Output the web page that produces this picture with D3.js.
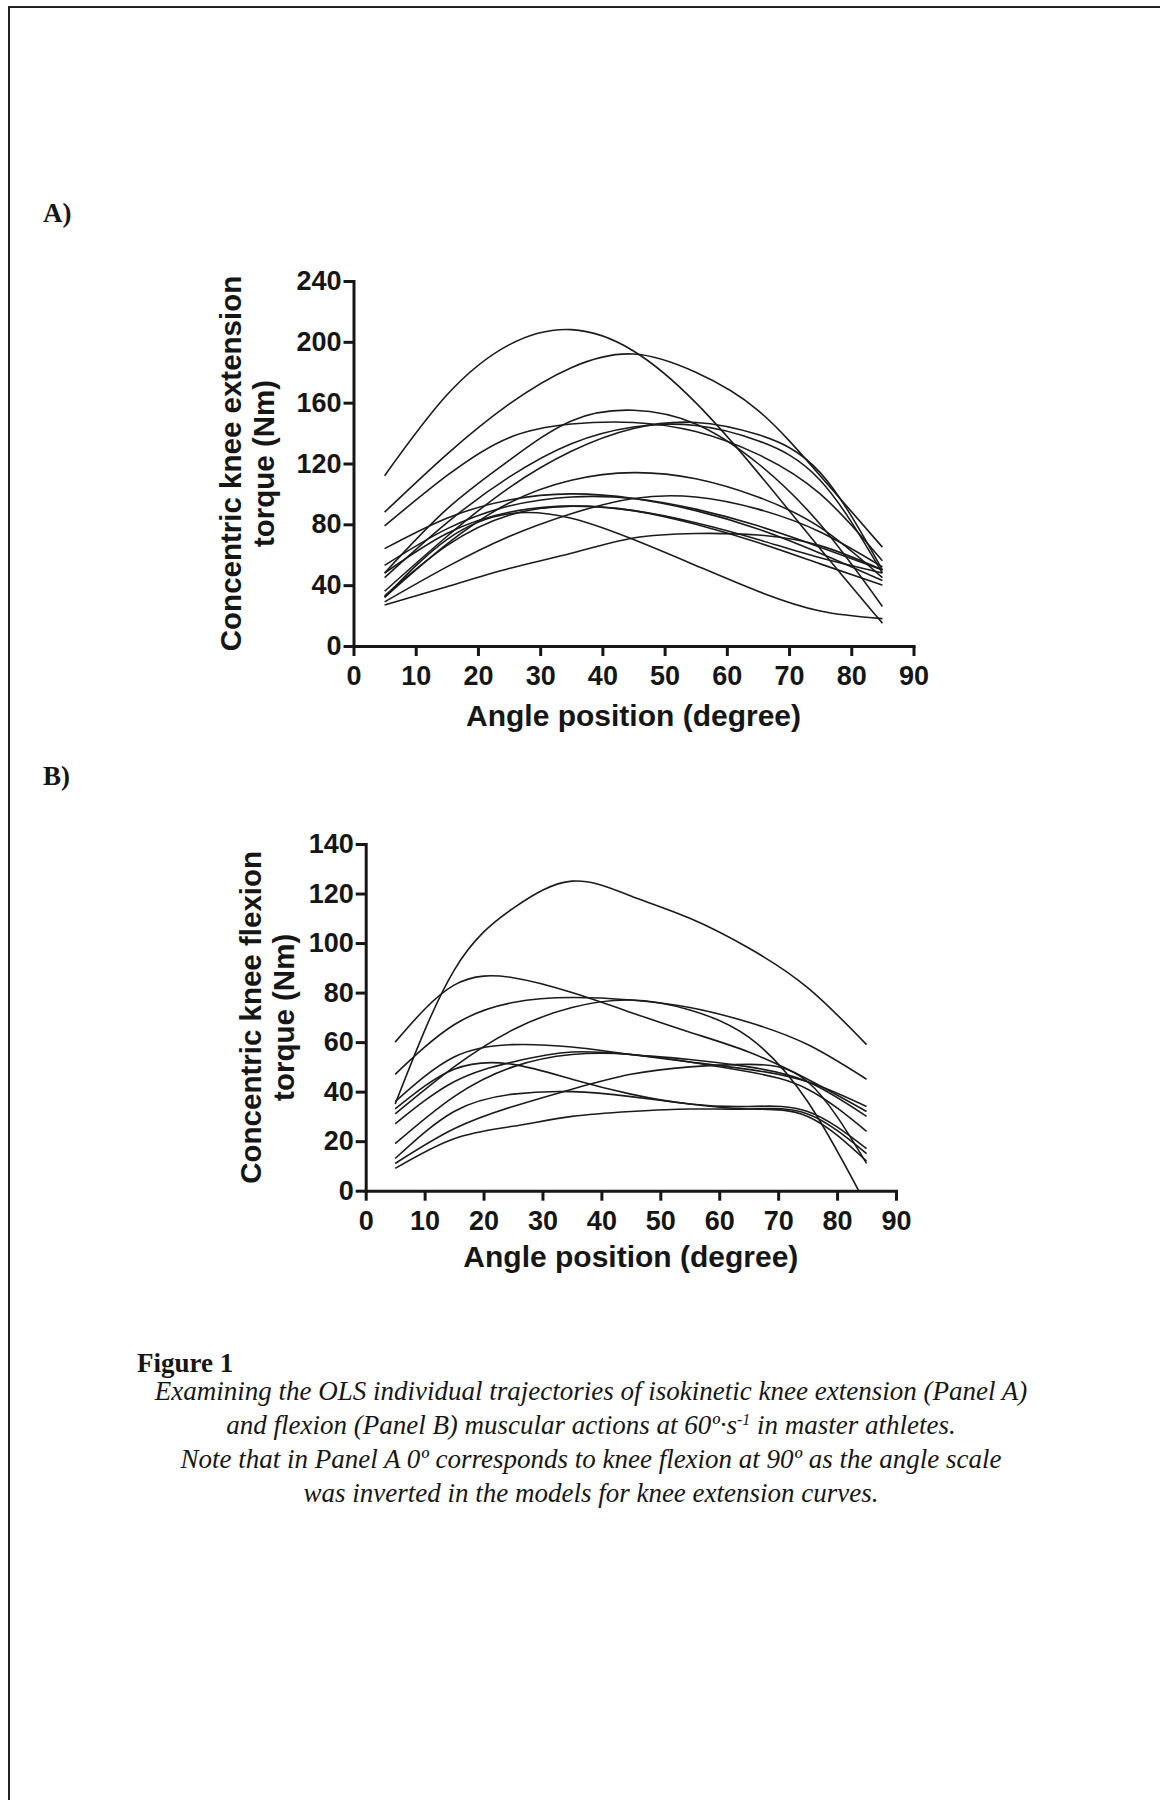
<!DOCTYPE html>
<html>
<head>
<meta charset="utf-8">
<script src="https://cdn.jsdelivr.net/npm/d3@7"></script>
<style>
body { margin: 0; background: #fff; }
svg { display: block; }
</style>
</head>
<body>
<div id="figure"></div>
<script>
const anglePoints = [5, 15, 25, 35, 45, 55, 65, 75, 85]
const angleTicks = [0, 10, 20, 30, 40, 50, 60, 70, 80, 90]
const extensionTicks = [0, 40, 80, 120, 160, 200, 240]
const flexionTicks = [0, 20, 40, 60, 80, 100, 120, 140]

// Panel A - concentric knee extension torque (Nm), one row per athlete
const extensionTorque = [
    [112, 165, 198, 208, 194, 160, 114, 64, 15],
    [88, 126, 159, 183, 192, 180, 155, 112, 65],
    [48, 90, 122, 148, 155, 146, 120, 80, 26],
    [79, 112, 137, 146, 147, 141, 126, 100, 56],
    [36, 72, 104, 128, 143, 147, 139, 114, 50],
    [45, 81, 111, 133, 144, 145, 135, 109, 48],
    [32, 67, 94, 109, 114, 110, 98, 78, 45],
    [64, 84, 96, 100, 97, 89, 77, 61, 43],
    [29, 52, 72, 87, 97, 98, 90, 75, 52],
    [33, 66, 86, 92, 89, 80, 68, 54, 40],
    [32, 70, 87, 84, 70, 53, 36, 23, 18],
    [27, 39, 51, 61, 71, 74, 73, 66, 50],
    [48, 74, 88, 92, 89, 81, 70, 58, 48],
    [53, 77, 92, 98, 97, 90, 79, 65, 50],
]

// Panel B - concentric knee flexion torque (Nm)
const flexionTorque = [
    [35, 89, 114, 125, 119, 110, 98, 82, 59],
    [60, 83, 86, 80, 72, 64, 56, 45, 32],
    [47, 67, 76, 78, 77, 74, 68, 59, 45],
    [31, 50, 65, 74, 77, 73, 62, 36, -6],
    [36, 54, 59, 58, 55, 52, 49, 44, 34],
    [27, 44, 52, 56, 55, 53, 50, 44, 30],
    [19, 38, 50, 55, 55, 52, 48, 41, 24],
    [33, 49, 51, 45, 39, 35, 34, 32, 17],
    [13, 32, 39, 40, 38, 35, 33, 30, 12],
    [11, 25, 34, 41, 47, 50, 51, 44, 11],
    [9, 21, 26, 30, 32, 33, 33, 31, 15],
]

const captionLines = [
    "Examining the OLS individual trajectories of isokinetic knee extension (Panel A)",
    "and flexion (Panel B) muscular actions at 60º·s",
    "Note that in Panel A 0º corresponds to knee flexion at 90º as the angle scale",
    "was inverted in the models for knee extension curves.",
]

const sansFont = '"Liberation Sans", Arial, Helvetica, sans-serif'
const serifFont = '"Palatino Linotype", "Book Antiqua", Palatino, "Liberation Serif", serif'
const ink = "#161616"

let svg = d3.select("#figure").append("svg")
    .attr("width", 1160)
    .attr("height", 1800)

// page frame (left and top rule only)
svg.append("path")
    .attr("d", "M9,1800V7H1160")
    .attr("fill", "none")
    .attr("stroke", "#222")
    .attr("stroke-width", 2)

function styleAxis(g) {
    g.attr("font-family", sansFont)
     .attr("font-size", 27)
     .attr("font-weight", "bold")
    g.select(".domain")
     .attr("stroke", ink)
     .attr("stroke-width", 3)
     .attr("stroke-linecap", "square")
    g.selectAll(".tick line")
     .attr("stroke", ink)
     .attr("stroke-width", 3)
    g.selectAll(".tick text").attr("fill", ink)
}

function AppendPanel(p) {
    let x = d3.scaleLinear().domain([0, 90]).range([p.left, p.right])
    let y = d3.scaleLinear().domain([0, d3.max(p.ticks)]).range([p.bottom, p.top])

    // panel letter
    svg.append("text")
        .attr("x", 43)
        .attr("y", p.labelY)
        .attr("font-family", serifFont)
        .attr("font-weight", "bold")
        .attr("font-size", 27)
        .attr("fill", ink)
        .text(p.label)

    // curves that run below zero are cut at the axis, like the original
    svg.append("clipPath").attr("id", "clip-" + p.name)
        .append("rect")
        .attr("x", p.left)
        .attr("y", p.top - 10)
        .attr("width", p.right - p.left)
        .attr("height", p.bottom - p.top + 10)

    let line = d3.line()
        .x((d, i) => x(anglePoints[i]))
        .y(d => y(d))
        .curve(d3.curveNatural)

    svg.append("g")
        .attr("clip-path", "url(#clip-" + p.name + ")")
        .selectAll("path")
        .data(p.torque)
        .enter()
        .append("path")
        .attr("d", line)
        .attr("fill", "none")
        .attr("stroke", "#1b1b1b")
        .attr("stroke-width", 1.6)

    svg.append("g")
        .attr("transform", "translate(0," + p.bottom + ")")
        .call(d3.axisBottom(x).tickValues(angleTicks).tickSize(10).tickSizeOuter(0).tickPadding(10))
        .call(styleAxis)

    svg.append("g")
        .attr("transform", "translate(" + p.left + ",0)")
        .call(d3.axisLeft(y).tickValues(p.ticks).tickSize(10).tickSizeOuter(0).tickPadding(2))
        .call(styleAxis)

    svg.append("text")
        .attr("x", (p.left + p.right) / 2)
        .attr("y", p.xTitleY)
        .attr("text-anchor", "middle")
        .attr("font-family", sansFont)
        .attr("font-weight", "bold")
        .attr("font-size", 30)
        .attr("fill", ink)
        .text("Angle position (degree)")

    p.yTitle.forEach((t, i) => {
        svg.append("text")
            .attr("transform", "translate(" + p.titleX[i] + "," + (p.top + p.bottom) / 2 + ") rotate(-90)")
            .attr("text-anchor", "middle")
            .attr("font-family", sansFont)
            .attr("font-weight", "bold")
            .attr("font-size", 29.5)
            .attr("fill", ink)
            .text(t)
    })
}

AppendPanel({
    name: "a", label: "A)", labelY: 222,
    left: 353.5, right: 913.5, top: 281, bottom: 646, xTitleY: 726,
    ticks: extensionTicks, torque: extensionTorque,
    yTitle: ["Concentric knee extension", "torque (Nm)"], titleX: [241, 274],
})

AppendPanel({
    name: "b", label: "B)", labelY: 785,
    left: 365.7, right: 896, top: 844, bottom: 1190.7, xTitleY: 1267,
    ticks: flexionTicks, torque: flexionTorque,
    yTitle: ["Concentric knee flexion", "torque (Nm)"], titleX: [261, 294],
})

// caption
svg.append("text")
    .attr("x", 137)
    .attr("y", 1372)
    .attr("font-family", serifFont)
    .attr("font-weight", "bold")
    .attr("font-size", 27)
    .attr("fill", ink)
    .text("Figure 1")

let caption = svg.append("g")
    .attr("font-family", serifFont)
    .attr("font-style", "italic")
    .attr("font-size", 27)
    .attr("fill", ink)
    .attr("text-anchor", "middle")

captionLines.forEach((t, i) => {
    let row = caption.append("text")
        .attr("x", 591)
        .attr("y", 1400 + i * 34)
    row.append("tspan").text(t)
    if (i === 1) {
        // s⁻¹ written as a raised small "-1"
        row.append("tspan").attr("dy", -9).attr("font-size", 16).text("-1")
        row.append("tspan").attr("dy", 9).text(" in master athletes.")
    }
})
</script>
</body>
</html>
